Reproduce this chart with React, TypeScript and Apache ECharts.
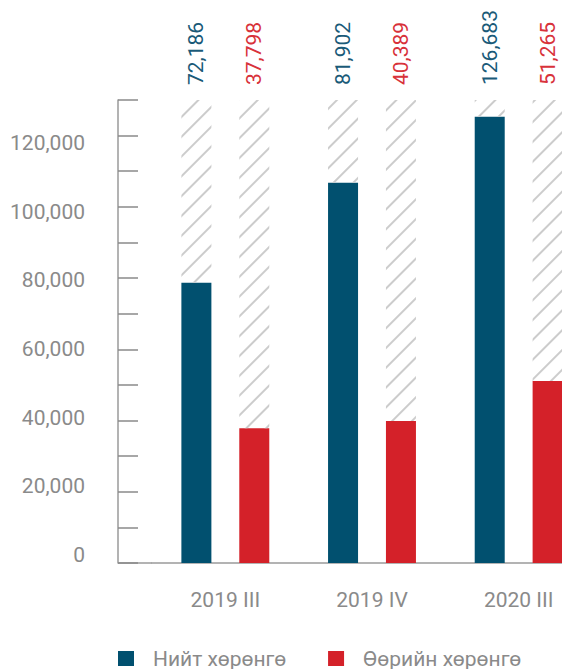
import React, { useEffect, useRef } from "react";
import * as echarts from "echarts";

const categories = ["2019 III", "2019 IV", "2020 III"];
const totalAssets = [78700, 106800, 125300];
const ownAssets = [37860, 39900, 51070];
const totalLabels = ["72,186", "81,902", "126,683"];
const ownLabels = ["37,798", "40,389", "51,265"];
const seriesNames = ["Нийт хөрөнгө", "Өөрийн хөрөнгө"];
const axisMax = 130000;

const BLUE = "#01506f";
const RED = "#d42129";
const GREY = "#8a8a8a";
const FONT = "Roboto";

const hatch = {
  symbol: "rect",
  symbolSize: 1,
  color: "#cccccc",
  backgroundColor: "transparent",
  dashArrayX: [1, 0],
  dashArrayY: [1.1, 11.6],
  rotation: -Math.PI / 4,
};

export default function App() {
  const ref = useRef<HTMLDivElement>(null);
  useEffect(() => {
    document.body.style.margin = "0";
    if (!ref.current) return;
    const chart = echarts.init(ref.current, null, { renderer: "svg" });
    const rest = (vals: number[]) => vals.map((v) => axisMax - v);
    const valueLabel = (color: string, texts: string[]) => ({
      show: true,
      position: "top",
      rotate: 90,
      align: "left",
      verticalAlign: "middle",
      distance: 15,
      color,
      fontSize: 21,
      fontFamily: FONT,
      formatter: (p: any) => texts[p.dataIndex],
    });
    chart.setOption({
      animation: false,
      textStyle: { fontFamily: FONT },
      grid: [
        { left: 152, width: 440, top: 100, bottom: 106, outerBoundsMode: "none", containLabel: false },
        { left: 152, width: 440, top: 143, bottom: 114, outerBoundsMode: "none", containLabel: false },
      ],
      xAxis: [
        {
          type: "category",
          gridIndex: 0,
          data: categories,
          axisLine: { show: true, lineStyle: { color: "#9a9a9a", width: 1.5 } },
          axisTick: { show: false },
          axisLabel: { color: GREY, fontSize: 21, margin: 26, fontFamily: FONT },
        },
        { type: "category", gridIndex: 1, data: categories, show: false },
      ],
      yAxis: [
        {
          type: "value",
          gridIndex: 0,
          min: 0,
          max: axisMax,
          interval: 10000,
          offset: 34,
          axisLine: { show: true, lineStyle: { color: "#9a9a9a", width: 1.5 } },
          axisTick: { show: true, inside: true, length: 20, lineStyle: { color: "#8a8a8a", width: 1.5 } },
          axisLabel: { show: false },
          splitLine: { show: false },
        },
        {
          type: "value",
          gridIndex: 1,
          min: 0,
          max: 120000,
          interval: 20000,
          offset: 34,
          axisLine: { show: false },
          axisTick: { show: false },
          splitLine: { show: false },
          axisLabel: {
            color: GREY,
            fontSize: 21,
            margin: 33,
            fontFamily: FONT,
            formatter: (v: number) => v.toLocaleString("en-US"),
          },
        },
      ],
      legend: {
        data: seriesNames,
        left: 118,
        top: 648,
        padding: 0,
        icon: "rect",
        itemWidth: 16,
        itemHeight: 15,
        itemGap: 42,
        textStyle: { color: GREY, fontSize: 21, lineHeight: 20, fontFamily: FONT, padding: [0, 0, 0, 14] },
      },
      graphic: [
        {
          type: "line",
          shape: { x1: 118, y1: 563, x2: 152, y2: 563 },
          style: { stroke: "#9a9a9a", lineWidth: 1.5 },
          silent: true,
        },
      ],
      series: [
        {
          name: seriesNames[0],
          type: "bar",
          stack: "a",
          data: totalAssets,
          barWidth: 30,
          barGap: "93%",
          itemStyle: { color: BLUE },
        },
        {
          name: seriesNames[1],
          type: "bar",
          stack: "b",
          data: ownAssets,
          barWidth: 30,
          barGap: "93%",
          itemStyle: { color: RED },
        },
        {
          name: "hatch-a",
          type: "bar",
          stack: "a",
          data: rest(totalAssets),
          barWidth: 30,
          itemStyle: { color: "transparent", decal: hatch },
          label: valueLabel("#1a5a78", totalLabels),
        },
        {
          name: "hatch-b",
          type: "bar",
          stack: "b",
          data: rest(ownAssets),
          barWidth: 30,
          itemStyle: { color: "transparent", decal: hatch },
          label: valueLabel("#d8323a", ownLabels),
        },
      ],
    });
    return () => chart.dispose();
  }, []);
  return <div ref={ref} style={{ width: 562, height: 669 }} />;
}
